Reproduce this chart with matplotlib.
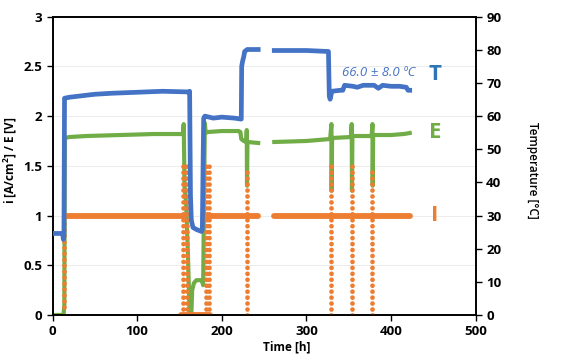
import numpy as np
import matplotlib
matplotlib.use("Agg")
import matplotlib.pyplot as plt

plt.rcParams["font.family"] = ["Open Sans", "DejaVu Sans"]
plt.rcParams["font.weight"] = "bold"

nan = np.nan

# Temperature T [degC], right axis
t_T = [0, 12, 12.8, 13.5, 14.2, 20, 30, 50, 70, 100, 130, 160, 162, 163, 164, 166, 170, 176,
       177, 178, 178.6, 180, 190, 200, 215, 223, 223.5, 224.5, 226, 227, 230, 243,
       nan, 262, 300, 326, 327, 328, 330, 340, 343, 345, 355, 360, 367, 380, 385,
       390, 400, 410, 418, 420, 422]
T_degC = [24.6, 24.6, 22.8, 24.0, 65.4, 65.7, 66.0, 66.6, 66.9, 67.2, 67.5, 67.3, 67.5, 36.0,
          28.5, 26.4, 25.8, 25.2, 25.8, 48.0, 59.4, 60.0, 59.4, 59.7, 59.4, 59.1, 75.0,
          76.5, 78.0, 79.5, 80.1, 80.1, nan, 79.8, 79.8, 79.5, 66.0, 65.1, 67.5, 67.8,
          67.8, 69.3, 69.0, 68.7, 69.3, 69.3, 68.4, 69.3, 69.0, 69.0, 68.7, 67.8, 67.8]

# Cell voltage E [V], left axis
t_E = [0, 13, 14, 14.5, 20, 40, 80, 120, 154, 155, 156, 158, 160, 162, 164, 165, 167, 170,
       176, 177, 178, 179, 180, 181, 183, 200, 220, 222, 223, 226, 229, 229.5, 229.8,
       230.3, 243, nan, 262, 300, 328, 329.5, 329.8, 330.3, 352.5, 353.5, 353.8,
       354.3, 377, 378, 378.3, 378.8, 400, 415, 422]
E_V = [0.0, 0.0, 0.1, 1.78, 1.79, 1.80, 1.81, 1.82, 1.82, 1.92, 1.30, 1.10, 0.60, 0.0,
       0.0, 0.25, 0.32, 0.35, 0.35, 0.33, 0.30, 1.20, 1.93, 1.83, 1.84, 1.85, 1.85,
       1.84, 1.77, 1.75, 1.74, 1.86, 1.30, 1.74, 1.73, nan, 1.74, 1.75, 1.77, 1.92,
       1.25, 1.78, 1.79, 1.92, 1.25, 1.80, 1.80, 1.92, 1.30, 1.81, 1.81, 1.82, 1.83]

# Current density i [A/cm2], steady segments
t_i = [15, 155, nan, 152, 186, nan, 183, 243, nan, 262, 422]
i_A = [1.0, 1.0, nan, 0.0, 0.0, nan, 1.0, 1.0, nan, 1.0, 1.0]

# Current density i during load changes (sampled points, vertical columns)
t_i_steps = [14, 14, nan, 154.5, 154.5, nan, 159, 159, nan, 181, 181, nan, 184.5, 184.5,
             nan, 229.5, 229.5, nan, 329.5, 329.5, nan, 353.5, 353.5, nan, 378, 378]
i_steps = [0.08, 1.0, nan, 0.0, 1.5, nan, 0.0, 1.5, nan, 0.0, 1.5, nan, 0.0, 1.5,
           nan, 0.0, 1.47, nan, 0.0, 1.52, nan, 0.0, 1.5, nan, 0.0, 1.45]

c_blue = "#4472C4"
c_orange = "#ED7D31"
c_green = "#70AD47"

fig = plt.figure(figsize=(5.61, 3.56), dpi=100)
ax = fig.add_axes([0.0936, 0.1152, 0.7544, 0.8379])
ax2 = ax.twinx()

ax.plot(t_i_steps, i_steps, color=c_orange, lw=3.4, linestyle=(0, (0.01, 1.25)),
        dash_capstyle="round", zorder=3)
ax.plot(t_i, i_A, color=c_orange, lw=4.2, solid_capstyle="round", zorder=3)
ax.plot(t_E, E_V, color=c_green, lw=3.0, zorder=2)
ax2.plot(t_T, T_degC, color=c_blue, lw=3.4, zorder=4)

ax.set_xlim(0, 500)
ax.set_ylim(0, 3)
ax2.set_ylim(0, 90)
ax.set_xticks(np.arange(0, 501, 100))
ax.set_yticks([0, 0.5, 1, 1.5, 2, 2.5, 3])
ax.set_yticklabels(["0", "0.5", "1", "1.5", "2", "2.5", "3"])
ax2.set_yticks(np.arange(0, 91, 10))
ax.yaxis.grid(True, color="#ececec", lw=0.7)
ax.set_axisbelow(True)

for a in (ax, ax2):
    a.tick_params(direction="out", length=4, width=1, labelsize=9.5)
    for s in a.spines.values():
        s.set_linewidth(1.2)
        s.set_color("black")

ax.set_ylabel("i [A/cm$^\\mathregular{2}$] / E [V]", fontsize=8.5, fontweight="bold")
ax.yaxis.set_label_coords(-0.078, 0.52)
ax.set_xlabel("Time [h]", fontsize=8.5, fontweight="bold")
ax.xaxis.set_label_coords(0.554, -0.085)
ax2.set_ylabel("Temperature [°C]", fontsize=8.5, fontweight="semibold", rotation=-90, va="center")
ax2.yaxis.set_label_coords(1.135, 0.486)

ax.text(385, 2.44, "66.0 ± 8.0 ºC", color=c_blue, fontsize=9.5, style="italic",
        fontweight="normal", ha="center", va="center")
ax.text(452, 2.42, "T", color="#2E75B6", fontsize=16, fontweight="bold", ha="center", va="center")
ax.text(452, 1.84, "E", color=c_green, fontsize=16, fontweight="bold", ha="center", va="center")
ax.text(452, 1.0, "I", color=c_orange, fontsize=16, fontweight="bold", ha="center", va="center")

fig.savefig("out.png", dpi=100)
